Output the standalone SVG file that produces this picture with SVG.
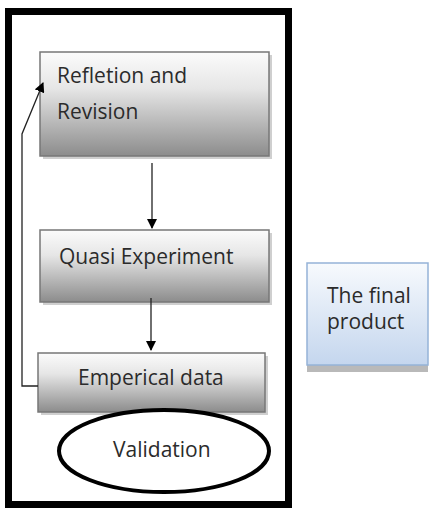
<svg xmlns="http://www.w3.org/2000/svg" width="430" height="510" viewBox="0 0 430 510">
<defs>
<linearGradient id="gGray" x1="0" y1="0" x2="0" y2="1">
<stop offset="0" stop-color="#fbfbfb"/>
<stop offset="0.35" stop-color="#e6e6e6"/>
<stop offset="1" stop-color="#8c8c8c"/>
</linearGradient>
<linearGradient id="gBlue" x1="0" y1="0" x2="0" y2="1">
<stop offset="0" stop-color="#f7fafd"/>
<stop offset="1" stop-color="#c4d6ee"/>
</linearGradient>
<marker id="arr" markerWidth="10" markerHeight="10" refX="9" refY="5" orient="auto" markerUnits="userSpaceOnUse">
<path d="M0,0 L10,5 L0,10 Z" fill="#000"/>
</marker>
</defs>
<style>
.box{fill:url(#gGray);stroke:#777;stroke-width:1.5}
.shadow{fill:#cfcfcf}
.lbl{font-family:"Open Sans","Liberation Sans",sans-serif;font-size:21px;fill:#2b2b2b}
.conn{fill:none;stroke:#222;stroke-width:1.3}
</style>
<rect id="frame" x="8.5" y="11.5" width="280" height="493" fill="#fff" stroke="#000" stroke-width="7"/>
<g id="node-reflection">
<rect class="shadow" x="43" y="55" width="229" height="104"/>
<rect class="box" x="40" y="52" width="229" height="104"/>
<text class="lbl" x="57" y="83">Refletion and</text>
<text class="lbl" x="57" y="119">Revision</text>
</g>
<g id="node-quasi">
<rect class="shadow" x="43" y="233" width="229" height="72"/>
<rect class="box" x="40" y="230" width="229" height="72"/>
<text class="lbl" x="59" y="264">Quasi Experiment</text>
</g>
<g id="node-empirical">
<rect class="shadow" x="41" y="356" width="227" height="59"/>
<rect class="box" x="38" y="353" width="227" height="59"/>
<text class="lbl" x="78" y="385">Emperical data</text>
</g>
<g id="node-validation">
<ellipse cx="164" cy="451" rx="105" ry="41" fill="#fff" stroke="#000" stroke-width="4"/>
<text class="lbl" x="113" y="457">Validation</text>
</g>
<g id="node-final">
<rect x="307" y="266" width="121" height="106" fill="#b9b9b9"/>
<rect x="307" y="263" width="121" height="102" fill="url(#gBlue)" stroke="#95b3d7" stroke-width="1.5"/>
<text class="lbl" x="327" y="303">The final</text>
<text class="lbl" x="327" y="329">product</text>
</g>
<g id="connectors">
<line class="conn" x1="152" y1="163" x2="152" y2="228" marker-end="url(#arr)"/>
<line class="conn" x1="151" y1="298" x2="151" y2="350" marker-end="url(#arr)"/>
<polyline class="conn" points="38,386 22,386 22,134 43,83" marker-end="url(#arr)"/>
</g>
</svg>
